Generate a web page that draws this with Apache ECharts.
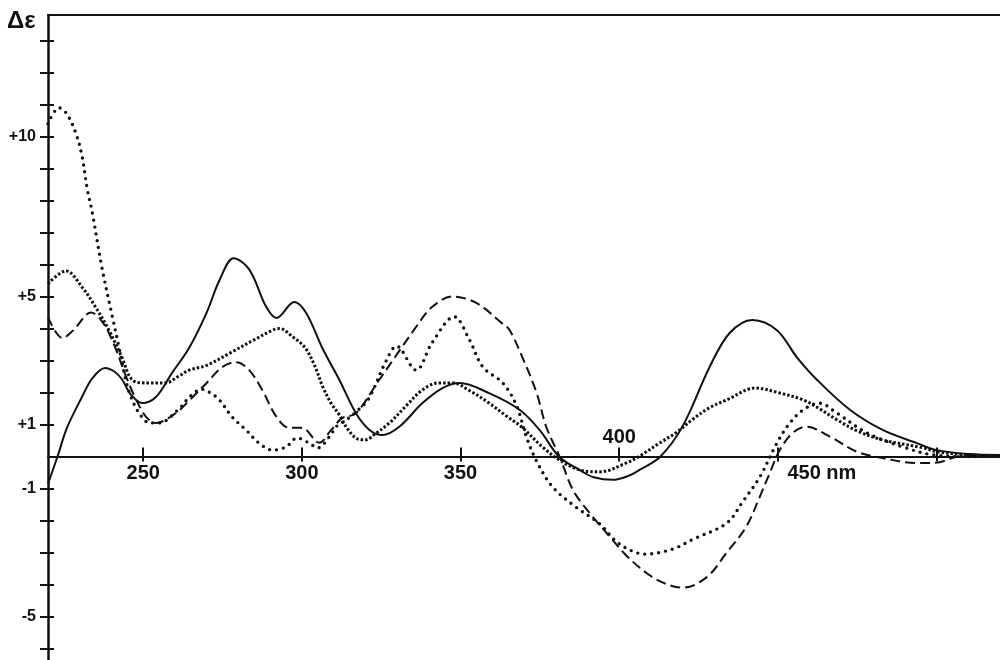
<!DOCTYPE html>
<html>
<head>
<meta charset="utf-8">
<script src="https://cdn.jsdelivr.net/npm/echarts@6/dist/echarts.min.js"></script>
<style>
html,body{margin:0;padding:0;background:#fff;}
#chart{width:1000px;height:660px;}
</style>
</head>
<body>
<div id="chart"></div>
<script>
// ---- data (wavelength nm, delta epsilon) ----
const wlSolid  = [220,223,226,230.7,234,238,241,243.4,246,249.7,254,259,264.5,270,274,278.5,283.4,288.8,292,297.6,301.4,306.4,311.8,317,321.3,325.4,330.7,338,344.3,349.7,359,368.6,374.9,381,387.5,392,398,403,406.4,413,420,428.5,434.8,442,449.7,456,462.3,472.7,483,493.8,500,510,520];
const valSolid = [-0.85,0,0.9,1.86,2.45,2.77,2.65,2.4,1.95,1.67,1.86,2.6,3.4,4.5,5.5,6.2,5.85,4.67,4.33,4.83,4.48,3.4,2.4,1.36,0.83,0.67,0.93,1.67,2.14,2.3,1.98,1.46,0.83,0,-0.42,-0.65,-0.73,-0.6,-0.42,0,0.95,2.8,3.86,4.27,3.95,3.1,2.4,1.46,0.83,0.42,0.2,0.08,0.05];

const wlDashed  = [220,224.6,228,233.6,237.2,240.8,244.6,247.8,250.9,254,260.3,265,270,275,279.3,283.4,287.5,292,296,300,305.5,309,312.7,317,324.4,330.7,336,341,347.5,355,363,365.4,369.5,374,377,381.2,385.4,390.7,397,402.3,408.6,414,420,427.6,433.9,440,444.3,447.5,450.6,454.7,459,466.4,474.9,483,493.8,498.9,509.6,520];
const valDashed = [4.36,3.7,3.95,4.5,4.2,3.5,2.5,1.77,1.24,1.05,1.36,1.8,2.3,2.8,2.95,2.7,2.08,1.24,0.9,0.9,0.43,0.8,1.2,1.35,2.4,3.3,4.05,4.67,5.0,4.8,4.17,3.96,3.1,1.98,0.93,0,-1.04,-1.77,-2.5,-3.1,-3.64,-3.95,-4.1,-3.77,-3.0,-2.2,-1.26,-0.5,0.2,0.74,0.93,0.62,0.15,-0.05,-0.2,-0.2,0.05,0];

const wlDotted  = [220,223.5,226,228.8,230.7,232.3,234,237,240,242.4,244.5,246,248.7,252,255,261,265,268.5,271,274,278,282.4,286.5,290.8,295,298.5,302.3,305,308.7,311,314,320,322,326.6,329.8,336,341,348,352.8,357,363.3,367.6,370.8,374,379,386.6,393.8,399,404,408,412.7,418,423,433.9,439,444.3,449.7,453.8,458,463,468.6,478,489.4,498.9,510,520];
const valDotted = [10.4,10.9,10.7,10.1,9.4,8.4,7.6,5.9,4.5,3.4,2.4,1.9,1.36,1.05,1.05,1.46,1.9,2.1,2.0,1.77,1.24,0.83,0.42,0.2,0.3,0.58,0.42,0.27,0.62,0.95,1.14,1.67,1.98,3.0,3.45,2.7,3.55,4.37,3.65,2.8,2.3,1.6,0.6,-0.15,-0.95,-1.6,-2.1,-2.65,-2.95,-3.05,-3.0,-2.85,-2.6,-2.08,-1.4,-0.64,0.42,1.05,1.46,1.67,1.36,0.74,0.3,0.05,0,0];

const wlCross  = [220,225.7,230.7,235,239.2,243.3,246.5,250.9,257,261,264.5,270,278,285,290.8,293,297,301,304,306.5,309,311.8,314.5,317.5,320,323,327.6,333,338,343,347.5,353,359,364,369.5,375.8,381,387.5,393.8,402.3,407,412.7,418,423,428,433.9,443,450,458,463,468.6,475,483,495.8,500,510,520];
const valCross = [5.4,5.8,5.3,4.67,3.95,3.1,2.4,2.3,2.3,2.5,2.7,2.85,3.27,3.65,3.95,4.0,3.75,3.4,2.85,2.2,1.7,1.3,0.85,0.55,0.52,0.7,1.05,1.6,2.08,2.3,2.3,2.05,1.67,1.3,0.9,0.3,-0.1,-0.42,-0.48,-0.2,0.05,0.42,0.75,1.15,1.5,1.77,2.14,2.0,1.77,1.5,1.15,0.8,0.52,0.27,0.15,0.05,0];

// ---- axes / ticks ----
const xMin = 220, xMax = 520;
const yMin = -6.36, yMax = 13.8;
const xTickValues = [250,300,350,400,450,500];
const xLabelsBelow = [250,300,350,450];
const xLabelsAbove = [400];
const xUnit = 'nm';
const yTickValues = [-6,-5,-4,-3,-2,-1,1,2,3,4,5,6,7,8,9,10,11,12,13];
const yLabelValues = [10,5,1,-1,-5];
const yLabelTexts = ['+10','+5','+1','-1','-5'];
const yTitle = 'Δε';

function pairs(xs, ys){ return xs.map((x,i)=>[x, ys[i]]); }

const INK = '#111';
const FONT = '"Liberation Sans", Arial, sans-serif';

const chart = echarts.init(document.getElementById('chart'), null, {renderer:'canvas'});

const baseX = {type:'value', gridIndex:0, min:xMin, max:xMax, splitLine:{show:false}};
const baseY = {type:'value', gridIndex:0, min:yMin, max:yMax, splitLine:{show:false}, position:'left'};

const option = {
  backgroundColor:'#fff',
  animation:false,
  grid:[{left:48, right:0, top:15, bottom:0, containLabel:false, outerBoundsMode:'none'}],
  xAxis:[
    Object.assign({}, baseX, {
      position:'bottom',
      axisLine:{show:true, onZero:false, lineStyle:{color:INK, width:2}},
      axisTick:{show:true, inside:false, length:5, customValues:xTickValues, lineStyle:{color:INK, width:2}},
      axisLabel:{show:true, margin:7, customValues:xLabelsBelow, color:INK,
        fontFamily:FONT, fontWeight:'bold', fontSize:20,
        formatter:function(v){ return v===450 ? '{nm|'+v+' '+xUnit+'}' : '{n|'+v+'}'; },
        rich:{
          n:{fontFamily:FONT, fontWeight:'bold', fontSize:20, color:INK},
          nm:{fontFamily:FONT, fontWeight:'bold', fontSize:20, color:INK, padding:[0,0,0,88]}
        }}
    }),
    Object.assign({}, baseX, {
      position:'bottom',
      axisLine:{show:false, onZero:false},
      axisTick:{show:true, inside:true, length:9, customValues:xTickValues, lineStyle:{color:INK, width:2}},
      axisLabel:{show:true, inside:true, margin:9, customValues:xLabelsAbove, color:INK,
        fontFamily:FONT, fontWeight:'bold', fontSize:20}
    }),
    Object.assign({}, baseX, {
      position:'top',
      axisLine:{show:true, onZero:false, lineStyle:{color:INK, width:2}},
      axisTick:{show:false}, axisLabel:{show:false}
    })
  ],
  yAxis:[
    Object.assign({}, baseY, {
      axisLine:{show:true, onZero:false, lineStyle:{color:INK, width:2.5}},
      axisTick:{show:true, inside:false, length:8, customValues:yTickValues, lineStyle:{color:INK, width:2}},
      axisLabel:{show:true, margin:12, customValues:yLabelValues, color:INK,
        fontFamily:FONT, fontWeight:'bold', fontSize:16,
        formatter:function(v){ const i = yLabelValues.indexOf(v); return i>=0 ? yLabelTexts[i] : ''; }}
    }),
    Object.assign({}, baseY, {
      axisLine:{show:false, onZero:false},
      axisTick:{show:true, inside:true, length:6, customValues:yTickValues, lineStyle:{color:INK, width:2}},
      axisLabel:{show:false}
    })
  ],
  graphic:[{
    type:'text', left:7, top:9,
    style:{text:yTitle, fill:INK, font:'bold 24px '+FONT}
  }],
  series:[
    {type:'line', name:'solid', xAxisIndex:0, yAxisIndex:0, data:pairs(wlSolid, valSolid),
      smooth:0.35, showSymbol:false, lineStyle:{color:INK, width:2, type:'solid'}},
    {type:'line', name:'dashed', xAxisIndex:0, yAxisIndex:0, data:pairs(wlDashed, valDashed),
      smooth:0.35, showSymbol:false, lineStyle:{color:INK, width:2, type:[10,5]}},
    {type:'line', name:'dotted', xAxisIndex:0, yAxisIndex:0, data:pairs(wlDotted, valDotted),
      smooth:0.35, showSymbol:false, lineStyle:{color:INK, width:3.4, type:[0,7], cap:'round'}},
    {type:'line', name:'cross', xAxisIndex:0, yAxisIndex:0, data:pairs(wlCross, valCross),
      smooth:0.35, showSymbol:false, lineStyle:{color:INK, width:3, type:[2.5,2]}}
  ]
};
chart.setOption(option);

// move the x axes onto the zero line, using the library's own y scale
const zeroPx = chart.convertToPixel({xAxisIndex:0, yAxisIndex:0}, [xMin, 0])[1];
const bottomPx = chart.convertToPixel({xAxisIndex:0, yAxisIndex:0}, [xMin, yMin])[1];
const off = zeroPx - bottomPx;
chart.setOption({xAxis:[{offset:off},{offset:off},{}]});
</script>
</body>
</html>
